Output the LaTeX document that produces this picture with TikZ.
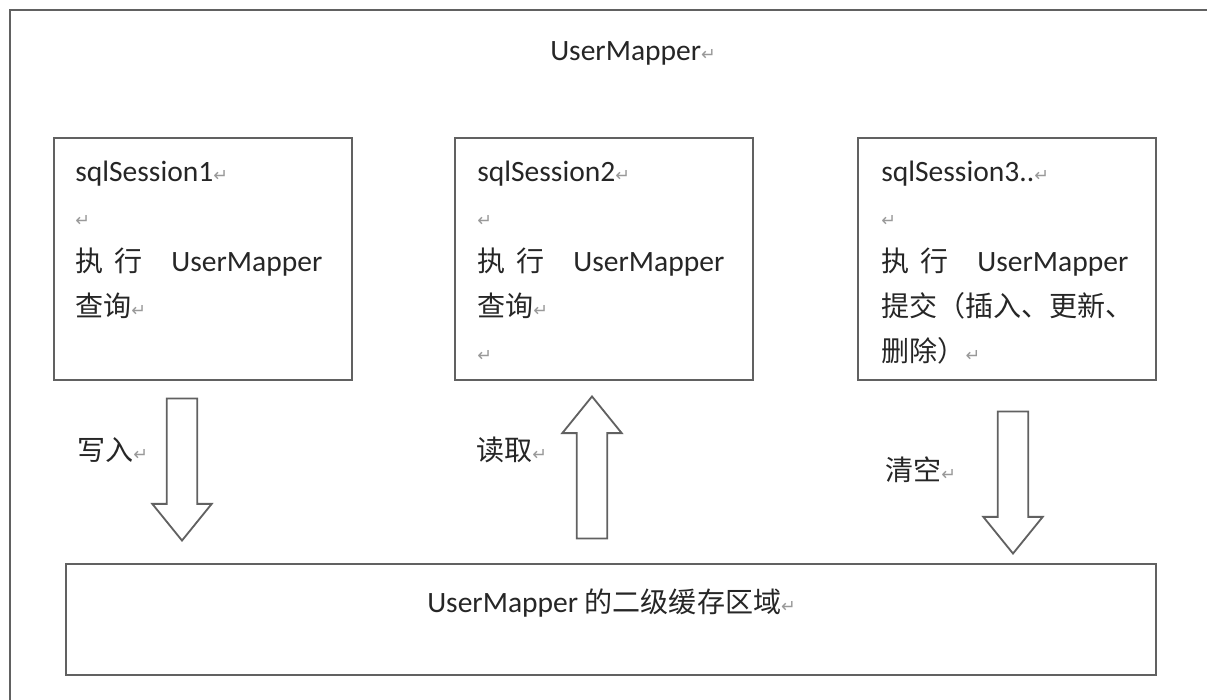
\documentclass[tikz,border=0pt]{standalone}
\usepackage{fontspec}
\setmainfont{Carlito}
\newfontfamily\cjk[Scale=0.95]{Noto Sans CJK SC}
\newfontfamily\symfont{DejaVu Sans}
\usetikzlibrary{shapes.arrows}
% paragraph mark as the word processor shows it
\newcommand{\pmark}{{\symfont\fontsize{12.5}{12.5}\selectfont\color{black!40}↵}}

\tikzset{
  frame/.style={draw=black!62, line width=1.3pt},
  sessbox/.style={frame, minimum width=7.45cm, minimum height=6.05cm, inner sep=0pt},
  boxtext/.style={anchor=north west, align=left, inner sep=0pt, text=black!85,
    font=\fontsize{21}{32}\selectfont},
  lbl/.style={anchor=west, inner sep=0pt, text=black!85, font=\fontsize{21}{32}\selectfont},
  flowarrow/.style={frame, fill=white, single arrow, single arrow tip angle=78,
    single arrow head extend=0.36cm, minimum height=3.55cm, inner sep=0.36cm, anchor=tip}
}

\begin{document}
\begin{tikzpicture}
	\useasboundingbox (0, 0) rectangle (30.175, 17.5);
	\clip (0, 0) rectangle (30.175, 17.5);
	
	%%%%% outer frame %%%%%
	\draw[frame] (0.25, -1) -- (0.25, 17.25) -- (31, 17.25);
	\node[lbl] (title) at (13.75, 16.175) {UserMapper\pmark};
	
	%%%%% sessions %%%%%
	\node[sessbox] (s1) at (5.075, 11.025) {};
	\node[sessbox] (s2) at (15.1, 11.025) {};
	\node[sessbox] (s3) at (25.175, 11.025) {};
	
	\node[boxtext] (t1) at ([xshift=0.55cm, yshift=-0.6cm]s1.north west)
		{sqlSession1\pmark\\ \pmark\\
		 {\cjk 执}\hspace{0.275cm}{\cjk 行}\hspace{0.725cm}UserMapper\\
		 {\cjk 查询}\pmark};
	\node[boxtext] (t2) at ([xshift=0.575cm, yshift=-0.6cm]s2.north west)
		{sqlSession2\pmark\\ \pmark\\
		 {\cjk 执}\hspace{0.275cm}{\cjk 行}\hspace{0.725cm}UserMapper\\
		 {\cjk 查询}\pmark\\ \pmark};
	\node[boxtext] (t3) at ([xshift=0.6cm, yshift=-0.6cm]s3.north west)
		{sqlSession3..\pmark\\ \pmark\\
		 {\cjk 执}\hspace{0.275cm}{\cjk 行}\hspace{0.725cm}UserMapper\\
		 {\cjk 提交（插入、更新、}\\
		 {\cjk 删除）}\pmark};
	
	%%%%% cache %%%%%
	\node[frame, minimum width=27.25cm, minimum height=2.775cm, inner sep=0pt] (cache) at (15.275, 2.0125) {};
	\node[lbl] (cachelbl) at (10.675, 2.425) {UserMapper {\cjk 的二级缓存区域}\pmark};
	
	%%%%% arrows (placed by their tips) %%%%%
	\node[flowarrow, rotate=-90] (write) at (4.55, 3.95) {};
	\node[flowarrow, rotate=90] (read) at (14.8, 7.625) {};
	\node[flowarrow, rotate=-90] (flush) at (25.325, 3.625) {};
	
	\node[lbl] (writelbl) at (1.925, 6.25) {\cjk 写入\pmark};
	\node[lbl] (readlbl) at (11.9, 6.25) {\cjk 读取\pmark};
	\node[lbl] (flushlbl) at (22.125, 5.75) {\cjk 清空\pmark};
\end{tikzpicture}
\end{document}
